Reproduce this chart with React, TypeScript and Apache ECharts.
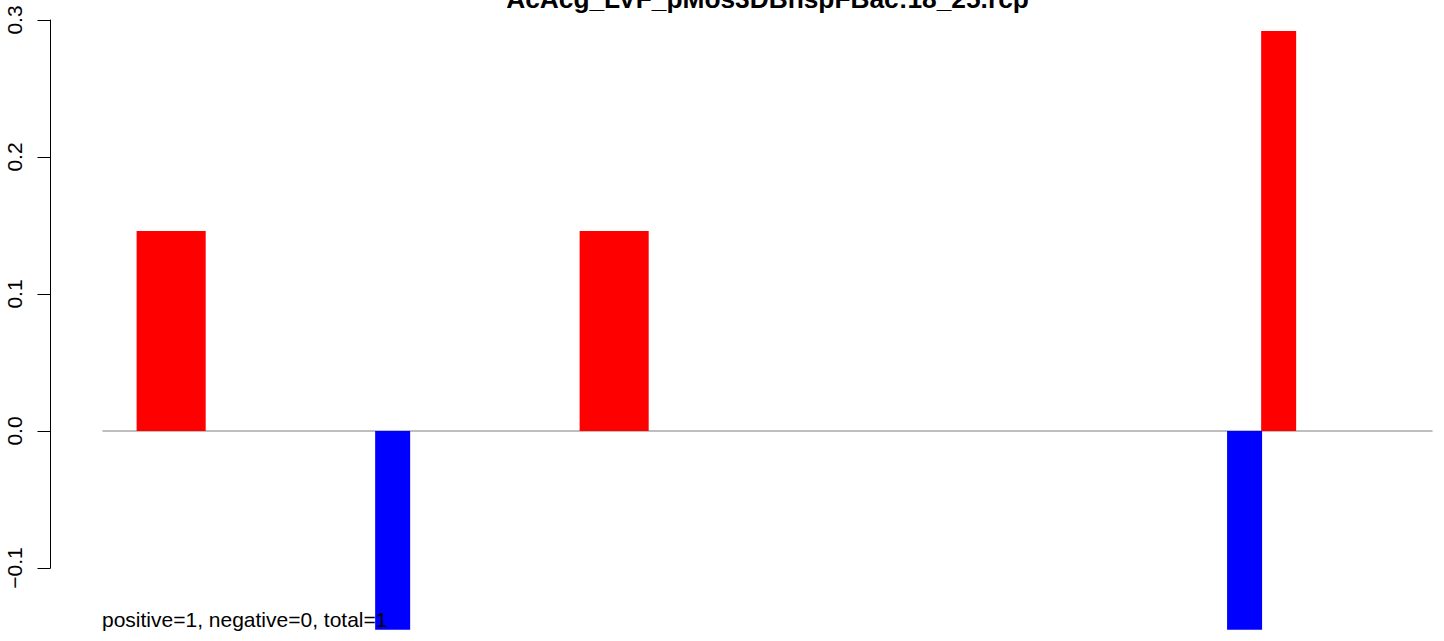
import React, { useEffect, useRef } from "react";
import * as echarts from "echarts";

const TITLE = "AcAcg_LVF_pMos3DBnspFBac:18_25.rcp";
const NOTE = "positive=1, negative=0, total=1";

const categories = [
  "1", "2", "3", "4", "5", "6", "7", "8", "9", "10",
  "11", "12", "13", "14", "15", "16", "17", "18", "19", "20",
  "21", "22", "23", "24", "25", "26", "27", "28", "29", "30",
  "31", "32", "33", "34", "35", "36", "37", "38", "39",
];

const values = [
  0, 0.146, 0.146, 0, 0, 0, 0, 0, -0.145, 0,
  0, 0, 0, 0, 0.146, 0.146, 0, 0, 0, 0,
  0, 0, 0, 0, 0, 0, 0, 0, 0, 0,
  0, 0, 0, -0.145, 0.292, 0, 0, 0, 0,
];

const yMin = -0.1;
const yMax = 0.3;
const yStep = 0.1;

const FONT = '"Liberation Sans", Arial, Helvetica, sans-serif';

export default function App() {
  const ref = useRef<HTMLDivElement>(null);

  useEffect(() => {
    const chart = echarts.init(ref.current as HTMLDivElement, null, { renderer: "svg" });
    chart.setOption({
      animation: false,
      backgroundColor: "#ffffff",
      grid: { left: 103, right: 12, top: 20, bottom: 73, containLabel: false },
      xAxis: {
        type: "category",
        data: categories,
        boundaryGap: true,
        axisLine: { show: true, onZero: true, lineStyle: { color: "#a9a9a9", width: 1.5 } },
        axisTick: { show: false },
        axisLabel: { show: false },
        splitLine: { show: false },
      },
      yAxis: {
        type: "value",
        min: yMin,
        max: yMax,
        interval: yStep,
        offset: 52.5,
        axisLine: { show: true, lineStyle: { color: "#000000", width: 1 } },
        axisTick: { show: true, inside: false, length: 13, lineStyle: { color: "#000000", width: 1 } },
        axisLabel: {
          rotate: 90,
          margin: 26,
          fontSize: 21,
          color: "#000000",
          fontFamily: FONT,
          showMinLabel: true,
          showMaxLabel: true,
          formatter: (v: number) => {
            if (Math.abs(v) < 1e-9) return "0.0";
            return v < 0 ? "\u2212" + Math.abs(v).toFixed(1) : v.toFixed(1);
          },
        },
        splitLine: { show: false },
      },
      series: [
        {
          type: "bar",
          data: values.map((v) => ({
            value: v,
            itemStyle: {
              color: v === 0 ? "rgba(0,0,0,0)" : v > 0 ? "#ff0000" : "#0000ff",
              borderWidth: 0,
            },
          })),
          barWidth: 35,
          barGap: "0%",
          clip: false,
          z: 2,
        },
      ],
      graphic: [
        {
          type: "text",
          x: 767.5,
          y: -1.5,
          z: 100,
          style: {
            text: TITLE,
            font: "bold 26.3px " + FONT,
            fill: "#000000",
            align: "center",
            verticalAlign: "middle",
          },
        },
        {
          type: "text",
          x: 102,
          y: 619.5,
          z: 100,
          style: {
            text: NOTE,
            font: "21px " + FONT,
            fill: "#000000",
            align: "left",
            verticalAlign: "middle",
          },
        },
      ],
    });
    return () => chart.dispose();
  }, []);

  return (
    <div
      ref={ref}
      style={{ position: "absolute", left: 0, top: 0, width: 1444, height: 641 }}
    />
  );
}
